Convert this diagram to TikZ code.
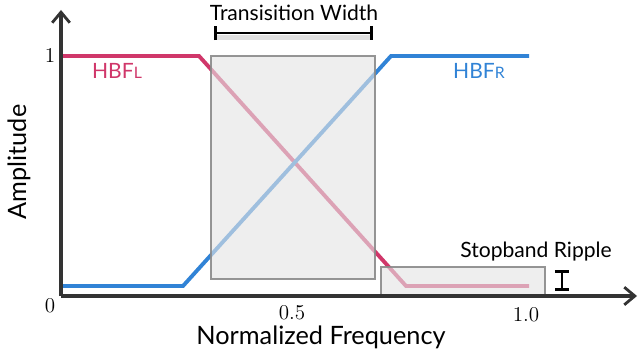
\documentclass[tikz,border=0pt]{standalone}
\usepackage{fontspec}
\setsansfont{Lato}
\usetikzlibrary{arrows.meta}

\definecolor{hbfred}{HTML}{D0376A}
\definecolor{hbfblue}{HTML}{3183D6}
\definecolor{axisgray}{HTML}{333333}
\definecolor{boxgray}{HTML}{E4E4E4}
\definecolor{boxline}{HTML}{8A8A8A}

\begin{document}
\begin{tikzpicture}[x = 0.02cm, y = 0.02cm, font=\sffamily]
	\tikzstyle{axisStyle} = [draw = axisgray, line width = 2.2pt, -{Straight Barb[length=6pt, width=10pt, line width=1.6pt]}]
	\tikzstyle{curveStyle} = [line width = 2.2pt, line join = miter]
	\tikzstyle{boxStyle} = [draw = boxline, fill = boxgray, fill opacity = 0.62, draw opacity = 0.9, line width = 0.8pt]
	\tikzstyle{tickStyle} = [font = \rmfamily\large, inner sep = 0pt]
	\tikzstyle{labelStyle} = [font = \sffamily\large, inner sep = 0pt]
	\tikzstyle{barStyle} = [line width = 1.6pt, {Bar[width=8pt]}-{Bar[width=8pt]}]
	\useasboundingbox (0,0) rectangle (638,352);
	% axes corners
	\coordinate (O) at (61,56);
	\coordinate (ytop) at (61,342);
	\coordinate (xend) at (637,56);
	% HBF_L corners
	\coordinate (l0) at (61,296);
	\coordinate (l1) at (199,296);
	\coordinate (l2) at (406,66);
	\coordinate (l3) at (529,66);
	% HBF_R corners
	\coordinate (r0) at (61,66);
	\coordinate (r1) at (183,66);
	\coordinate (r2) at (391,296);
	\coordinate (r3) at (529,296);
	\draw[curveStyle, hbfred] (l0) -- (l1) -- (l2) -- (l3);
	\draw[curveStyle, hbfblue] (r0) -- (r1) -- (r2) -- (r3);
	% transition and stopband boxes
	\draw[boxStyle] (211,73) rectangle (375,296);
	\draw[boxStyle] (381,56) rectangle (545,85);
	\draw[axisStyle] (O) -- (ytop);
	\draw[axisStyle] (O) -- (xend);
	% width bracket
	\coordinate (wa) at (214,319);
	\coordinate (wb) at (373,319);
	\draw[line width = 2.5pt, black, opacity = 0.12] ([yshift=-2.5pt]wa) -- ([yshift=-2.5pt]wb);
	\draw[barStyle] (wa) -- (wb);
	% ripple bar
	\coordinate (ra) at (562,82);
	\coordinate (rb) at (562,61);
	\draw[barStyle, line width = 1.5pt] (ra) -- (rb);
	% texts
	\node[tickStyle] (one) at (50,297) {1};
	\node[tickStyle] (zero) at (50,46) {0};
	\node[tickStyle] (half) at (292,39) {0.5};
	\node[tickStyle] (full) at (526,37) {1.0};
	\node[labelStyle, font = \sffamily\Large] (xlabel) at (321,15) {Normalized Frequency};
	\node[labelStyle, font = \sffamily\Large, rotate = 90] (ylabel) at (19,190) {Amplitude};
	\node[labelStyle] (width) at (294,339) {Transisition Width};
	\node[labelStyle] (ripple) at (536,100) {Stopband Ripple};
	\node[labelStyle, hbfred] (hbfl) at (117,281) {HBF{\small L}};
	\node[labelStyle, hbfblue] (hbfr) at (479,281) {HBF{\small R}};
\end{tikzpicture}
\end{document}
